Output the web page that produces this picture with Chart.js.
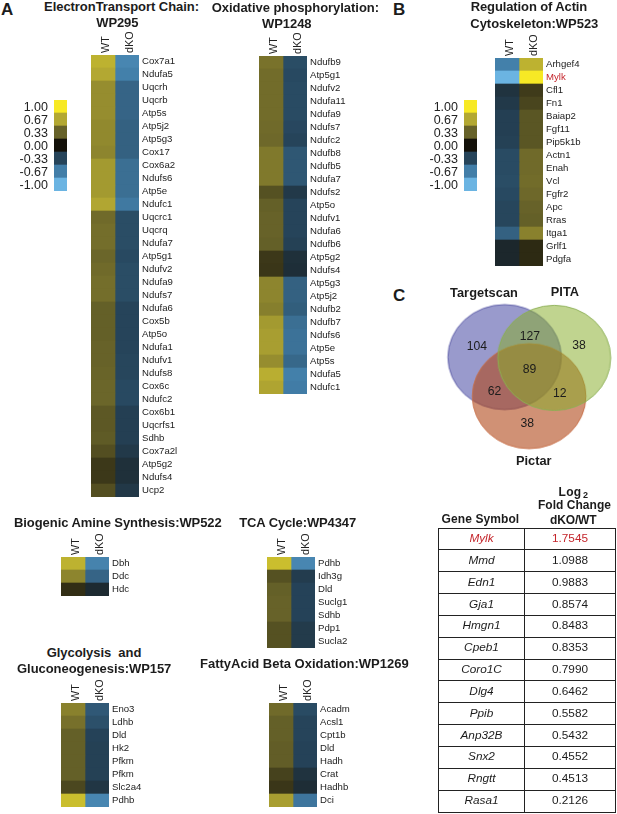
<!DOCTYPE html>
<html>
<head>
<meta charset="utf-8">
<title>dKO vs WT heatmaps</title>
<script src="https://cdn.jsdelivr.net/npm/chart.js@4"></script>
<style>
  html, body { margin: 0; padding: 0; background: #fff; }
  #page { position: relative; width: 617px; height: 814px; overflow: hidden; font-family: "Liberation Sans", Arial, sans-serif; color: #1c1c1c; }
  #page canvas { position: absolute; }
  .txt { position: absolute; white-space: pre; font-weight: bold; line-height: 1; }
  #foldTable { position: absolute; left: 438px; top: 527.5px; width: 178px; height: 285px; border-collapse: collapse; table-layout: fixed; font-size: 11.8px; line-height: 1; text-align: center; }
  #foldTable td { border: 1.3px solid #222; padding: 0; }
  #foldTable td:first-child { font-style: italic; width: 85px; }
  #foldTable tr.hit td { color: #c4252b; }
</style>
</head>
<body>
<div id="page"></div>
<script>
// heatmap data (colour scale -1 .. 1)
const legendTicks = ['1.00', '0.67', '0.33', '0.00', '-0.33', '-0.67', '-1.00'];
const legendValues = [1, 0.67, 0.33, 0, -0.33, -0.67, -1];

const etcGenes = ['Cox7a1', 'Ndufa5', 'Uqcrh', 'Uqcrb', 'Atp5s', 'Atp5j2', 'Atp5g3', 'Cox17', 'Cox6a2', 'Ndufs6', 'Atp5e', 'Ndufc1', 'Uqcrc1', 'Uqcrq', 'Ndufa7', 'Atp5g1', 'Ndufv2', 'Ndufa9', 'Ndufs7', 'Ndufa6', 'Cox5b', 'Atp5o', 'Ndufa1', 'Ndufv1', 'Ndufs8', 'Cox6c', 'Ndufc2', 'Cox6b1', 'Uqcrfs1', 'Sdhb', 'Cox7a2l', 'Atp5g2', 'Ndufs4', 'Ucp2'];
const etcWt = [0.72, 0.67, 0.54, 0.54, 0.54, 0.52, 0.52, 0.5, 0.6, 0.6, 0.6, 0.66, 0.37, 0.39, 0.39, 0.35, 0.37, 0.39, 0.39, 0.32, 0.32, 0.32, 0.33, 0.33, 0.34, 0.35, 0.35, 0.29, 0.29, 0.3, 0.25, 0.16, 0.16, 0.25];
const etcDko = [-0.72, -0.68, -0.52, -0.52, -0.52, -0.5, -0.5, -0.5, -0.58, -0.58, -0.58, -0.64, -0.38, -0.38, -0.38, -0.36, -0.38, -0.38, -0.38, -0.33, -0.33, -0.33, -0.33, -0.34, -0.34, -0.36, -0.36, -0.3, -0.3, -0.3, -0.26, -0.2, -0.2, -0.25];

const oxGenes = ['Ndufb9', 'Atp5g1', 'Ndufv2', 'Ndufa11', 'Ndufa9', 'Ndufs7', 'Ndufc2', 'Ndufb8', 'Ndufb5', 'Ndufa7', 'Ndufs2', 'Atp5o', 'Ndufv1', 'Ndufa6', 'Ndufb6', 'Atp5g2', 'Ndufs4', 'Atp5g3', 'Atp5j2', 'Ndufb2', 'Ndufb7', 'Ndufs6', 'Atp5e', 'Atp5s', 'Ndufa5', 'Ndufc1'];
const oxWt = [0.41, 0.38, 0.38, 0.38, 0.38, 0.37, 0.36, 0.44, 0.44, 0.44, 0.26, 0.32, 0.33, 0.33, 0.32, 0.16, 0.15, 0.5, 0.5, 0.47, 0.6, 0.62, 0.62, 0.54, 0.7, 0.65];
const oxDko = [-0.38, -0.36, -0.37, -0.37, -0.37, -0.35, -0.33, -0.44, -0.44, -0.44, -0.26, -0.33, -0.33, -0.33, -0.31, -0.2, -0.19, -0.5, -0.5, -0.48, -0.58, -0.6, -0.6, -0.54, -0.68, -0.66];

const actinGenes = ['Arhgef4', 'Mylk', 'Cfl1', 'Fn1', 'Baiap2', 'Fgf11', 'Pip5k1b', 'Actn1', 'Enah', 'Vcl', 'Fgfr2', 'Apc', 'Rras', 'Itga1', 'Grlf1', 'Pdgfa'];
const actinWt = [-0.68, -1, -0.22, -0.26, -0.3, -0.3, -0.31, -0.37, -0.37, -0.38, -0.36, -0.34, -0.34, -0.5, -0.14, -0.14];
const actinDko = [0.72, 1, 0.17, 0.21, 0.28, 0.28, 0.28, 0.37, 0.37, 0.38, 0.36, 0.33, 0.32, 0.48, 0.1, 0.1];

const amineGenes = ['Dbh', 'Ddc', 'Hdc'];
const amineWt = [0.72, 0.5, 0.12];
const amineDko = [-0.7, -0.52, -0.16];

const tcaGenes = ['Pdhb', 'Idh3g', 'Dld', 'Suclg1', 'Sdhb', 'Pdp1', 'Sucla2'];
const tcaWt = [0.78, 0.26, 0.32, 0.33, 0.33, 0.26, 0.26];
const tcaDko = [-0.72, -0.28, -0.32, -0.32, -0.32, -0.27, -0.27];

const glyGenes = ['Eno3', 'Ldhb', 'Dld', 'Hk2', 'Pfkm', 'Pfkm', 'Slc2a4', 'Pdhb'];
const glyWt = [0.48, 0.4, 0.32, 0.32, 0.32, 0.32, 0.22, 0.78];
const glyDko = [-0.45, -0.4, -0.32, -0.31, -0.31, -0.31, -0.24, -0.72];

const faGenes = ['Acadm', 'Acsl1', 'Cpt1b', 'Dld', 'Hadh', 'Crat', 'Hadhb', 'Dci'];
const faWt = [0.37, 0.32, 0.32, 0.31, 0.31, 0.2, 0.15, 0.62];
const faDko = [-0.37, -0.33, -0.33, -0.32, -0.32, -0.22, -0.18, -0.62];

// venn
const vennCounts = [104, 127, 38, 89, 62, 12, 38];
const vennCountX = [474, 530, 582, 529.7, 492.7, 561.7, 527.3];
const vennCountY = [344.3, 334.3, 343.3, 369, 393, 394.3, 427];
const vennSetX = [503.3, 529.2, 555.8];
const vennSetY = [355.8, 397.5, 356.7];

// fold change table
const tableGenes = ['Mylk', 'Mmd', 'Edn1', 'Gja1', 'Hmgn1', 'Cpeb1', 'Coro1C', 'Dlg4', 'Ppib', 'Anp32B', 'Snx2', 'Rngtt', 'Rasa1'];
const tableFold = ['1.7545', '1.0988', '0.9883', '0.8574', '0.8483', '0.8353', '0.7990', '0.6462', '0.5582', '0.5432', '0.4552', '0.4513', '0.2126'];

const FONT = '"Liberation Sans", Arial, sans-serif';
Chart.defaults.font.family = FONT;
Chart.defaults.animation = false;
Chart.defaults.responsive = false;
Chart.defaults.plugins.legend.display = false;
Chart.defaults.plugins.tooltip.enabled = false;

const page = document.getElementById('page');

// colour scale taken from the legend swatches
const colourStops = [
  [-1, [107, 180, 226]], [-0.67, [66, 126, 168]], [-0.33, [38, 68, 90]], [0, [20, 17, 10]],
  [0.33, [103, 98, 41]], [0.67, [179, 168, 50]], [1, [247, 233, 37]]
];
function heatColour(v) {
  for (let i = 1; i < colourStops.length; i++) {
    if (v <= colourStops[i][0]) {
      const [a, ca] = colourStops[i - 1];
      const [b, cb] = colourStops[i];
      const t = (v - a) / (b - a);
      return 'rgb(' + ca.map((c, k) => Math.round(c + (cb[k] - c) * t)).join(',') + ')';
    }
  }
  return 'rgb(247,233,37)';
}

function addCanvas(left, top, width, height) {
  const c = document.createElement('canvas');
  c.width = width;
  c.height = height;
  c.style.left = left + 'px';
  c.style.top = top + 'px';
  page.appendChild(c);
  return c;
}

const HEAD = 30, LABELS = 62, ROW = 13, COLS = 48;

function noPadding(s) {
  s.paddingLeft = s.paddingRight = s.paddingTop = s.paddingBottom = 0;
}

// one heatmap = stacked horizontal bars, each cell one unit wide
function heatmap(left, top, genes, wt, dko, redGene) {
  const cell = genes.map(() => 1);
  new Chart(addCanvas(left, top - HEAD, COLS + LABELS, HEAD + genes.length * ROW), {
    type: 'bar',
    data: {
      labels: genes,
      datasets: [
        { label: 'WT', data: cell, backgroundColor: wt.map(heatColour) },
        { label: 'dKO', data: cell, backgroundColor: dko.map(heatColour) }
      ]
    },
    options: {
      indexAxis: 'y',
      layout: { padding: 0 },
      datasets: { bar: { barPercentage: 1, categoryPercentage: 1, borderWidth: 0 } },
      scales: {
        x: {
          type: 'linear', position: 'top', stacked: true, min: 0, max: 2,
          grid: { display: false, drawTicks: false }, border: { display: false },
          afterBuildTicks: s => { s.ticks = [{ value: 0.5 }, { value: 1.5 }]; },
          afterFit: s => { s.height = HEAD; noPadding(s); },
          ticks: {
            autoSkip: false, minRotation: 90, maxRotation: 90, padding: 2, labelOffset: 16,
            color: '#222', font: { size: 10.8 },
            callback: v => (v < 1 ? 'WT' : 'dKO')
          }
        },
        y: {
          type: 'category', position: 'right', stacked: true,
          grid: { display: false, drawTicks: false }, border: { display: false },
          afterFit: s => { s.width = LABELS; noPadding(s); },
          ticks: {
            autoSkip: false, padding: 3,
            font: { size: 9.6 },
            color: c => (genes[c.index] === redGene ? '#c4252b' : '#222')
          }
        }
      }
    }
  });
}

function colourLegend(left) {
  const top = 100, labelW = 50;
  new Chart(addCanvas(left - labelW, top, labelW + 13, legendTicks.length * ROW), {
    type: 'bar',
    data: {
      labels: legendTicks,
      datasets: [{ data: legendValues.map(() => 1), backgroundColor: legendValues.map(heatColour) }]
    },
    options: {
      indexAxis: 'y',
      layout: { padding: 0 },
      datasets: { bar: { barPercentage: 1, categoryPercentage: 1, borderWidth: 0 } },
      scales: {
        x: { display: false, min: 0, max: 1 },
        y: {
          type: 'category',
          grid: { display: false, drawTicks: false }, border: { display: false },
          afterFit: s => { s.width = labelW; noPadding(s); },
          ticks: { autoSkip: false, padding: 6, labelOffset: 1.5, color: '#222', font: { size: 12.5 } }
        }
      }
    }
  });
}

// drawn as image points so the sets can be slightly oval like the original
function ovalStamp(rx, ry, fill, stroke) {
  const c = document.createElement('canvas');
  c.width = Math.ceil(rx * 2 + 4);
  c.height = Math.ceil(ry * 2 + 4);
  const g = c.getContext('2d');
  g.beginPath();
  g.ellipse(c.width / 2, c.height / 2, rx, ry, 0, 0, Math.PI * 2);
  g.fillStyle = fill;
  g.fill();
  g.strokeStyle = stroke;
  g.lineWidth = 1;
  g.stroke();
  return c;
}

function venn() {
  const stamps = [
    ovalStamp(56.7, 52.5, 'rgba(85,87,170,0.6)', 'rgba(90,90,165,0.9)'),
    ovalStamp(56.8, 52.5, 'rgba(176,71,25,0.6)', 'rgba(200,110,70,0.9)'),
    ovalStamp(56.5, 52.6, 'rgba(135,172,40,0.52)', 'rgba(140,175,85,0.9)')
  ];
  const countLabels = {
    id: 'countLabels',
    afterDatasetsDraw(chart) {
      const g = chart.ctx;
      g.save();
      g.font = '12.2px ' + FONT;
      g.fillStyle = '#1c1c1c';
      g.textAlign = 'center';
      g.textBaseline = 'middle';
      chart.getDatasetMeta(1).data.forEach((pt, i) => g.fillText(String(vennCounts[i]), pt.x, pt.y));
      g.restore();
    }
  };
  new Chart(addCanvas(437, 297, 180, 158), {
    type: 'scatter',
    plugins: [countLabels],
    data: {
      datasets: [
        {
          data: vennSetX.map((x, i) => ({ x: x, y: vennSetY[i] })),
          pointStyle: stamps, pointRadius: 1, clip: false
        },
        {
          data: vennCountX.map((x, i) => ({ x: x, y: vennCountY[i] })),
          pointRadius: 0
        }
      ]
    },
    options: {
      layout: { padding: 0 },
      scales: {
        x: { display: false, min: 437, max: 617 },
        y: { display: false, min: 297, max: 455, reverse: true }
      }
    }
  });
}

heatmap(91, 54.5, etcGenes, etcWt, etcDko);
heatmap(259, 56, oxGenes, oxWt, oxDko);
heatmap(494.5, 58, actinGenes, actinWt, actinDko, 'Mylk');
heatmap(60.5, 556.5, amineGenes, amineWt, amineDko);
heatmap(267, 556.5, tcaGenes, tcaWt, tcaDko);
heatmap(60.5, 702.5, glyGenes, glyWt, glyDko);
heatmap(268.5, 702.5, faGenes, faWt, faDko);
colourLegend(54);
colourLegend(464);
venn();

// headings: text, left edge, centre y, width in the picture, size
const headings = [
  ['A', 1, 9, 12, 17], ['B', 393, 9, 11, 17], ['C', 393, 295, 11, 17],
  ['ElectronTransport Chain:', 44, 6.5, 155, 13], ['WP295', 96.3, 22.5, 42, 13],
  ['Oxidative phosphorylation:', 211.7, 7, 167.3, 13], ['WP1248', 262, 23.5, 49.5, 13],
  ['Regulation of Actin', 470.7, 6.5, 116.5, 13], ['Cytoskeleton:WP523', 470.3, 23.5, 128, 13],
  ['Biogenic Amine Synthesis:WP522', 14, 522.3, 207.7, 13], ['TCA Cycle:WP4347', 239.3, 522.3, 116.7, 13],
  ['Glycolysis  and', 46.7, 652.7, 94.6, 13], ['Gluconeogenesis:WP157', 17, 668.3, 154.3, 13],
  ['FattyAcid Beta Oxidation:WP1269', 200, 663.3, 208.7, 13],
  ['Targetscan', 450, 293.7, 68, 12.8], ['PITA', 550.7, 292.7, 28.5, 12.8], ['Pictar', 516, 461.7, 35.5, 12.8],
  ['Gene Symbol', 441.6, 519.3, 77.7, 12], ['Log', 558.5, 491.7, 23, 12], ['Fold Change', 538, 505, 73, 12], ['dKO/WT', 550, 519.5, 46.5, 12]
];
headings.forEach(([text, x, y, w, size]) => {
  const s = document.createElement('span');
  s.className = 'txt';
  s.textContent = text;
  s.style.fontSize = size + 'px';
  s.style.left = x + 'px';
  s.style.top = (y - size / 2) + 'px';
  page.appendChild(s);
  s.style.letterSpacing = ((w - s.getBoundingClientRect().width) / text.length) + 'px';
});
const sub = document.createElement('span');
sub.className = 'txt';
sub.textContent = '2';
sub.style.cssText = 'font-size:9px;left:583px;top:491px';
page.appendChild(sub);

// fold change table
const table = document.createElement('table');
table.id = 'foldTable';
tableGenes.forEach((gene, i) => {
  const tr = table.insertRow();
  if (i === 0) tr.className = 'hit';
  tr.insertCell().textContent = gene;
  tr.insertCell().textContent = tableFold[i];
});
page.appendChild(table);
</script>
</body>
</html>
